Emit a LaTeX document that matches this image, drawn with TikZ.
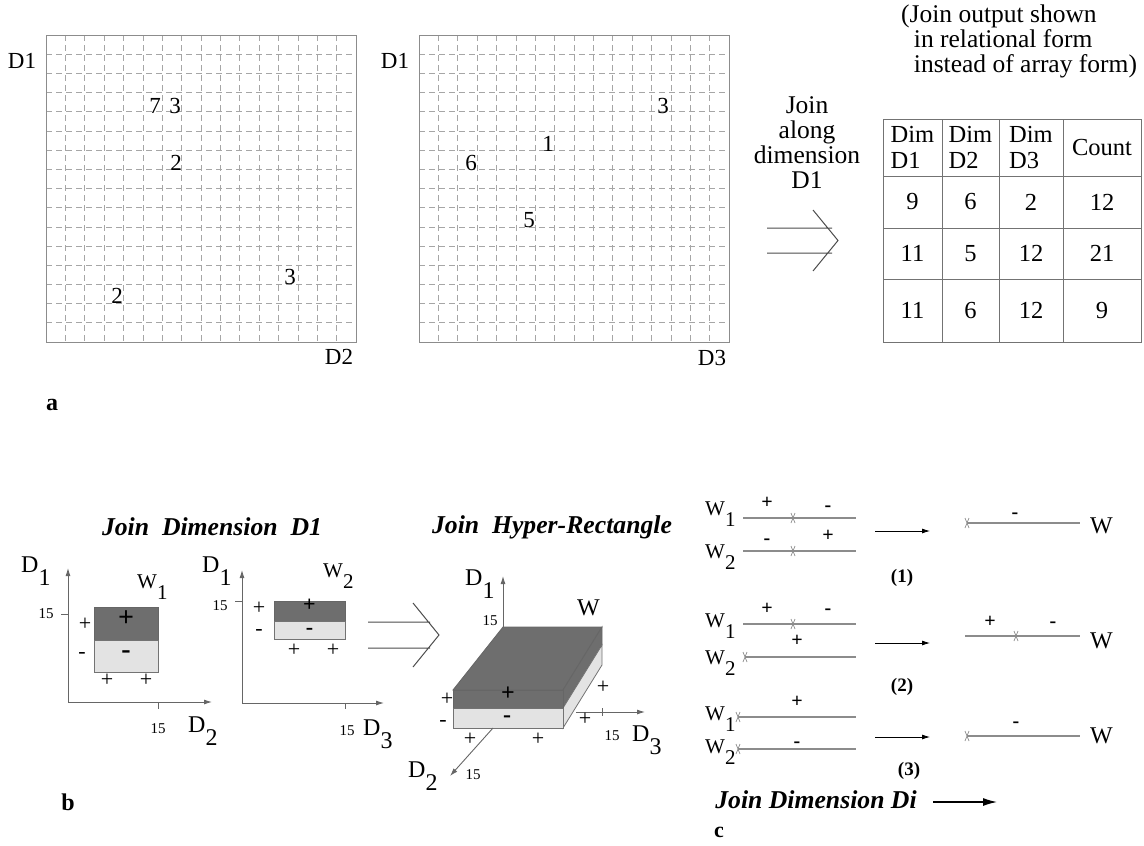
\documentclass[tikz,border=0pt]{standalone}
\usepackage{fontspec}
\setmainfont{Liberation Serif}
\usetikzlibrary{arrows.meta,positioning}
\newcommand{\lowsub}[2]{#1\raisebox{-0.55em}{#2}}

\begin{document}
\begin{tikzpicture}[x=1pt, y=-1pt,
  txt/.style={inner sep=0pt, font=\fontsize{25.5}{25}\selectfont},
  num/.style={inner sep=0pt, font=\fontsize{23}{24}\selectfont},
  dlbl/.style={inner sep=0pt, anchor=base west, font=\fontsize{24}{26}\selectfont},
  lbl/.style={inner sep=0pt, anchor=base west, font=\fontsize{21}{24}\selectfont},
  small/.style={inner sep=0pt, font=\fontsize{15}{17}\selectfont},
  ttl/.style={inner sep=0pt, font=\fontsize{25.7}{28}\selectfont\bfseries\itshape},
  tag/.style={inner sep=0pt, font=\fontsize{19}{20}\selectfont\bfseries},
  sgn/.style={inner sep=0pt, text height=0.6em, text depth=0pt, font=\fontsize{22}{22}\selectfont},
  csgn/.style={inner sep=0pt, text height=0.6em, text depth=0pt, font=\fontsize{20}{22}\selectfont\bfseries},
  bsgn/.style={inner sep=0pt, text height=0.55em, text depth=0pt, font=\fontsize{28}{28}\selectfont\bfseries},
  msgn/.style={inner sep=0pt, text height=0.5em, text depth=0pt, font=\fontsize{24}{24}\selectfont\bfseries},
  cell/.style={draw=black!55, line width=0.8pt, inner sep=0pt, font=\fontsize{24.5}{26}\selectfont},
  gridline/.style={black!35, dash pattern=on 6pt off 4pt, line width=0.7pt},
  frame/.style={draw=black!45, line width=1pt},
  dark/.style={fill=black!57, draw=black!60, line width=0.8pt, inner sep=0pt},
  light/.style={fill=black!11, draw=black!55, line width=0.8pt, inner sep=0pt},
  axis/.style={black!60, line width=0.9pt, -{Latex[length=8pt,width=5pt]}},
  tick/.style={black!60, line width=0.8pt},
  seg/.style={black!45, line width=1.1pt},
  cutx/.style={black!45, line width=0.7pt},
  step arrow/.style={black, line width=0.8pt, -{Latex[length=8pt,width=5pt]}},
  chevron/.style={black!70, line width=1pt}]
  \useasboundingbox (0,0) rectangle (1144,846);

  % (a) two arrays
  \foreach \gx in {46,419} {
    \foreach \i in {1,...,15} {
      \draw[gridline] (\gx,35+19.1875*\i) -- (\gx+310,35+19.1875*\i);
      \draw[gridline] (\gx+19.375*\i,35) -- (\gx+19.375*\i,342);
    }
    \draw[frame] (\gx,35) rectangle (\gx+310,342);
  }
  \node[num] (aD1) at (22,61) {D1};
  \node[num] (aD2) at (339,357) {D2};
  \node[num] (bD1) at (395,61) {D1};
  \node[num] (bD3) at (712,358) {D3};
  \node[num] (n7) at (155,106) {7};
  \node[num] (n3) at (175,106) {3};
  \node[num] (n2) at (176,163) {2};
  \node[num] (n2b) at (117,296) {2};
  \node[num] (n3b) at (290,277) {3};
  \node[num] (m3) at (663,106) {3};
  \node[num] (m1) at (548,144) {1};
  \node[num] (m6) at (471,163) {6};
  \node[num] (m5) at (529,220) {5};

  \node[txt, align=center] (joinD1) at (807,143) {Join\\along\\dimension\\D1};
  \draw[chevron] (767,228) -- (832,228) (767,253) -- (832,253)
    (813,210) -- (838,240.5) -- (813,271);
  \node[txt, align=left, anchor=west] (note) at (901,41)
    {(Join output shown\\\hspace{0.5em}in relational form\\\hspace{0.5em}instead of array form)};

  % join output table
  \node[cell, minimum width=59pt, minimum height=57pt, align=left] (h1) at (912.5,147.5) {Dim\\D1};
  \node[cell, minimum width=57pt, minimum height=57pt, align=left] (h2) at (970.5,147.5) {Dim\\D2};
  \node[cell, minimum width=64pt, minimum height=57pt, align=left] (h3) at (1031,147.5) {Dim\\D3};
  \node[cell, minimum width=78pt, minimum height=57pt] (h4) at (1102,147.5) {Count};
  \foreach \r/\ry/\rh/\a/\b/\c/\d in {1/202/52/9/6/2/12, 2/253.5/51/11/5/12/\raisebox{-4pt}{21}, 3/310.5/63/11/6/12/9} {
    \node[cell, minimum width=59pt, minimum height=\rh pt] (r\r c1) at (912.5,\ry) {\a};
    \node[cell, minimum width=57pt, minimum height=\rh pt] (r\r c2) at (970.5,\ry) {\b};
    \node[cell, minimum width=64pt, minimum height=\rh pt] (r\r c3) at (1031,\ry) {\c};
    \node[cell, minimum width=78pt, minimum height=\rh pt] (r\r c4) at (1102,\ry) {\d};
  }
  \node[tag, font=\fontsize{24}{24}\selectfont\bfseries] (taga) at (52,405) {a};

  % (b) join dimension D1
  \node[ttl] (ttlb) at (212,527) {Join\ \ Dimension\ \ D1};
  \coordinate (o1) at (68,702);
  \draw[axis] (o1) -- (68,568);
  \draw[axis] (o1) -- (212,702);
  \draw[tick] (61,614) -- (68,614) (158,702) -- (158,709);
  \node[dark, minimum width=64pt, minimum height=33pt] (w1p) at (126,623.5) {};
  \node[light, minimum width=64pt, minimum height=32pt] (w1m) at (126,656) {};
  \node[bsgn] at (w1p) {+};
  \node[bsgn] at (w1m) {-};
  \node[sgn] at (85,627) {+};
  \node[sgn] at (82,655) {-};
  \node[sgn] at (107,683) {+};
  \node[sgn] at (146,683) {+};
  \node[dlbl] (d1a) at (21,572) {\lowsub{D}{1}};
  \node[lbl] (w1) at (137,588) {\lowsub{W}{1}};
  \node[dlbl] (d2a) at (188,732) {\lowsub{D}{2}};
  \node[small] (t1y) at (46,614) {15};
  \node[small] (t1x) at (158,729) {15};

  \coordinate (o2) at (242,703);
  \draw[axis] (o2) -- (242,570);
  \draw[axis] (o2) -- (384,703);
  \draw[tick] (235,601) -- (242,601) (345,703) -- (345,709);
  \node[dark, minimum width=71pt, minimum height=20pt] (w2p) at (309.5,611) {};
  \node[light, minimum width=71pt, minimum height=18pt] (w2m) at (309.5,630) {};
  \node[msgn, font=\fontsize{22}{22}\selectfont\bfseries] at (309.5,608.5) {+};
  \node[msgn, font=\fontsize{22}{22}\selectfont\bfseries] at (309.5,632) {-};
  \node[sgn] at (259,611) {+};
  \node[sgn] at (259,632) {-};
  \node[sgn] at (294,653) {+};
  \node[sgn] at (333,653) {+};
  \node[dlbl] (d1b) at (202,572) {\lowsub{D}{1}};
  \node[lbl] (w2) at (323,577) {\lowsub{W}{2}};
  \node[dlbl] (d3b) at (363,735) {\lowsub{D}{3}};
  \node[small] (t2y) at (220,606) {15};
  \node[small] (t2x) at (347,731) {15};
  \node[tag, font=\fontsize{24}{24}\selectfont\bfseries] (tagb) at (68,802) {b};

  \draw[chevron] (368,622) -- (430,622) (368,648) -- (430,648)
    (413,603) -- (439,635) -- (413,667);

  % join hyper-rectangle
  \node[ttl] (ttlh) at (552,527) {Join\ \ Hyper-Rectangle};
  \coordinate (o3) at (503,627);
  \draw[axis] (o3) -- (503,576);
  \draw[dark] (503,627) -- (602,627) -- (563,690) -- (453,690) -- cycle;
  \draw[dark] (563,690) -- (602,627) -- (602,645) -- (563,708) -- cycle;
  \draw[light] (563,708) -- (602,645) -- (602,665) -- (563,728) -- cycle;
  \node[dark, minimum width=110pt, minimum height=18pt] (wp) at (508,699) {};
  \node[light, minimum width=110pt, minimum height=20pt] (wm) at (508,718) {};
  \node[msgn] at (508,698) {+};
  \node[msgn] at (507,720) {-};
  \draw[axis] (576,712) -- (645,712);
  \draw[tick] (602,708) -- (602,716);
  \draw[axis] (493,728) -- (450,776);
  \node[sgn] at (447,702) {+};
  \node[sgn] at (443,723) {-};
  \node[sgn] at (470,742) {+};
  \node[sgn] at (538,742) {+};
  \node[sgn] at (603,690) {+};
  \node[sgn] at (585,722) {+};
  \node[dlbl] (d1c) at (465,585) {\lowsub{D}{1}};
  \node[dlbl] (wlbl) at (577,615) {W};
  \node[dlbl] (d3c) at (632,741) {\lowsub{D}{3}};
  \node[dlbl] (d2c) at (408,777) {\lowsub{D}{2}};
  \node[small] (t3y) at (490,621) {15};
  \node[small] (t3z) at (612,736) {15};
  \node[small] (t3x) at (473,775) {15};

  % (c) join along dimension Di
  \node[lbl] (c1w1) at (705,515) {\lowsub{W}{1}};
  \node[lbl] (c1w2) at (705,558) {\lowsub{W}{2}};
  \draw[seg] (743,518) -- (856,518) (743,551) -- (856,551);
  \draw[cutx] (793,518) ++(-2,-5) -- ++(4,10) ++(0,-10) -- ++(-4,10);
  \draw[cutx] (793,551) ++(-2,-5) -- ++(4,10) ++(0,-10) -- ++(-4,10);
  \node[csgn] at (767,505) {+};
  \node[csgn] at (828,508) {-};
  \node[csgn] at (767,541) {-};
  \node[csgn] at (828,538) {+};
  \coordinate (s1) at (875,531);
  \coordinate (e1) at (930,531);
  \draw[step arrow] (s1) -- (e1);
  \node[tag] (case1) at (902,578) {(1)};
  \draw[seg] (967,523) -- (1080,523);
  \draw[cutx] (967,523) ++(-2,-5) -- ++(4,10) ++(0,-10) -- ++(-4,10);
  \node[csgn] at (1015,515) {-};
  \node[dlbl] (res1) at (1090,533) {W};

  \node[lbl] (c2w1) at (705,627) {\lowsub{W}{1}};
  \node[lbl] (c2w2) at (705,664) {\lowsub{W}{2}};
  \draw[seg] (743,624) -- (856,624) (745,657) -- (856,657);
  \draw[cutx] (793,624) ++(-2,-5) -- ++(4,10) ++(0,-10) -- ++(-4,10);
  \draw[cutx] (745,657) ++(-2,-5) -- ++(4,10) ++(0,-10) -- ++(-4,10);
  \node[csgn] at (767,611) {+};
  \node[csgn] at (828,611) {-};
  \node[csgn] at (797,643) {+};
  \coordinate (s2) at (875,643);
  \coordinate (e2) at (930,643);
  \draw[step arrow] (s2) -- (e2);
  \node[tag] (case2) at (902,687) {(2)};
  \draw[seg] (965,636) -- (1080,636);
  \draw[cutx] (1016,636) ++(-2,-5) -- ++(4,10) ++(0,-10) -- ++(-4,10);
  \node[csgn] at (990,624) {+};
  \node[csgn] at (1053,624) {-};
  \node[dlbl] (res2) at (1090,648) {W};

  \node[lbl] (c3w1) at (705,720) {\lowsub{W}{1}};
  \node[lbl] (c3w2) at (705,753) {\lowsub{W}{2}};
  \draw[seg] (738,717) -- (856,717) (738,749) -- (856,749);
  \draw[cutx] (738,717) ++(-2,-5) -- ++(4,10) ++(0,-10) -- ++(-4,10);
  \draw[cutx] (738,749) ++(-2,-5) -- ++(4,10) ++(0,-10) -- ++(-4,10);
  \node[csgn] at (797,704) {+};
  \node[csgn] at (797,744) {-};
  \coordinate (s3) at (875,737);
  \coordinate (e3) at (930,737);
  \draw[step arrow] (s3) -- (e3);
  \node[tag] (case3) at (909,771) {(3)};
  \draw[seg] (967,736) -- (1080,736);
  \draw[cutx] (967,736) ++(-2,-5) -- ++(4,10) ++(0,-10) -- ++(-4,10);
  \node[csgn] at (1016,724) {-};
  \node[dlbl] (res3) at (1090,743) {W};

  \node[ttl] (ttlc) at (816,800) {Join Dimension Di};
  \coordinate (sd) at (933,802);
  \coordinate (ed) at (997,802);
  \draw[black, line width=1.2pt, -{Latex[length=14pt,width=8pt]}] (sd) -- (ed);
  \node[tag, font=\fontsize{22}{22}\selectfont\bfseries] (tagc) at (719,832) {c};
\end{tikzpicture}
\end{document}
